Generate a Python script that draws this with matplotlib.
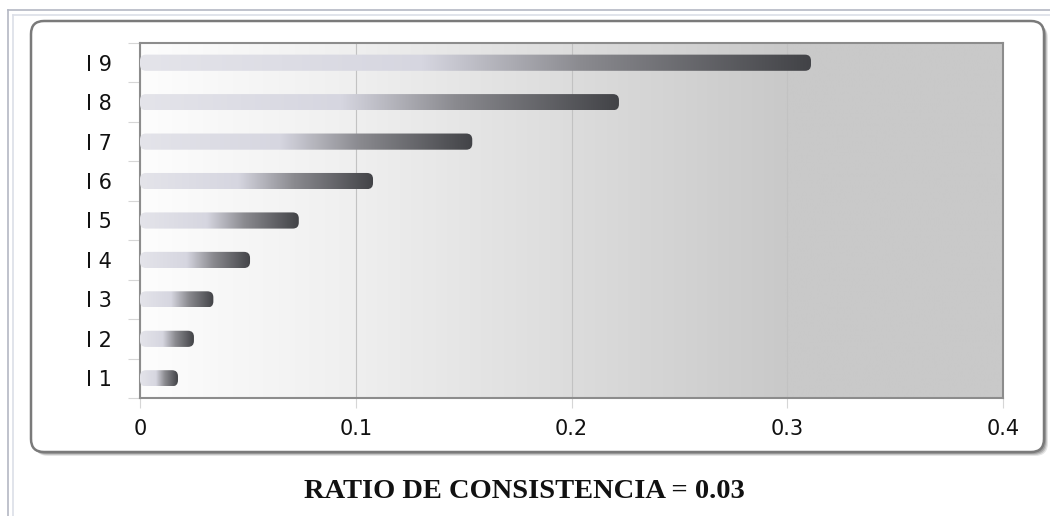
import numpy as np
import matplotlib
matplotlib.use("Agg")
import matplotlib.pyplot as plt
from matplotlib.patches import FancyBboxPatch
from matplotlib.colors import LinearSegmentedColormap
from matplotlib.lines import Line2D

# ---- data ----
categories = ["I 1", "I 2", "I 3", "I 4", "I 5", "I 6", "I 7", "I 8", "I 9"]
values = [0.0176, 0.025, 0.034, 0.051, 0.0736, 0.108, 0.154, 0.222, 0.311]
x_ticks = [0, 0.1, 0.2, 0.3, 0.4]
x_tick_labels = ["0", "0.1", "0.2", "0.3", "0.4"]
caption = "RATIO DE CONSISTENCIA = 0.03"

W, H = 1050, 516
fig = plt.figure(figsize=(W / 100, H / 100), dpi=100)
fig.patch.set_facecolor("white")


def fx(px):
    return px / W


def fy(py):
    return 1 - py / H


# outer page frame (double thin lines)
for off, col in [(8, "#b4b8c4"), (13, "#dcdfe8")]:
    fig.add_artist(Line2D([fx(off), 1], [fy(off + 2), fy(off + 2)],
                          transform=fig.transFigure, color=col, lw=1.2))
    fig.add_artist(Line2D([fx(off), fx(off)], [fy(off + 2), 0],
                          transform=fig.transFigure, color=col, lw=1.2))

# rounded chart panel with a soft shadow
asp_fig = W / H
px0, py0, px1, py1 = 31, 21, 1044, 452
for dx, a in [(4, 0.10), (3, 0.14), (2, 0.18)]:
    sh = FancyBboxPatch((fx(px0 + dx), fy(py1 + dx)), fx(px1 - px0), fy(py0) - fy(py1),
                        boxstyle=f"round,pad=0,rounding_size={fx(13)}",
                        mutation_aspect=asp_fig, transform=fig.transFigure,
                        facecolor="black", edgecolor="none", alpha=a, zorder=0)
    fig.add_artist(sh)
panel = FancyBboxPatch((fx(px0), fy(py1)), fx(px1 - px0), fy(py0) - fy(py1),
                       boxstyle=f"round,pad=0,rounding_size={fx(13)}",
                       mutation_aspect=asp_fig, transform=fig.transFigure,
                       facecolor="white", edgecolor="#7a7a7a", lw=1.8, zorder=0.5)
fig.add_artist(panel)

# plotting area
ax = fig.add_axes([fx(140), fy(398), fx(1003 - 140), fy(43) - fy(398)])
ax.set_zorder(2)
ax.patch.set_alpha(0)
xmax = 0.4
ax.set_xlim(0, xmax)
ax.set_ylim(-0.5, len(categories) - 0.5)

# background: white fading into grey, flat beyond 0.3
bg_x = np.linspace(0, xmax, 600)
bg_t = np.clip(bg_x / 0.3, 0, 1)[None, :]
bg_cmap = LinearSegmentedColormap.from_list(
    "bg", [(0.0, "#fdfdfd"), (0.33, "#efefef"), (0.67, "#dcdcdc"), (1.0, "#c9c9c9")])
ax.imshow(bg_t, extent=[0, xmax, -0.5, len(categories) - 0.5], cmap=bg_cmap,
          vmin=0, vmax=1, aspect="auto", origin="lower", interpolation="bilinear",
          zorder=0)

# bars: rounded capsules with a light-to-dark gradient along their length
bar_cmap = LinearSegmentedColormap.from_list(
    "bar", [(0.0, "#e4e4ea"), (0.42, "#d6d6e0"), (0.66, "#8a8a8f"), (1.0, "#424347")])
ypos = np.arange(len(categories))
bars = ax.barh(ypos, values, height=0.41, color="none", edgecolor="none")

fig.canvas.draw()
bb = ax.get_window_extent()
asp_ax = (len(categories) / bb.height) / (xmax / bb.width)
r = 6 * xmax / bb.width
grad = np.linspace(0, 1, 256)[None, :]
for rect in bars:
    x0, y0, w, h = rect.get_x(), rect.get_y(), rect.get_width(), rect.get_height()
    cap = FancyBboxPatch((x0, y0), w, h,
                         boxstyle=f"round,pad=0,rounding_size={r}",
                         mutation_aspect=asp_ax, transform=ax.transData,
                         facecolor="none", edgecolor="none")
    ax.add_patch(cap)
    im = ax.imshow(grad, extent=[x0, x0 + w, y0, y0 + h], cmap=bar_cmap,
                   aspect="auto", origin="lower", interpolation="bilinear", zorder=3)
    im.set_clip_path(cap)

ax.set_xlim(0, xmax)
ax.set_ylim(-0.5, len(categories) - 0.5)

# grid and axes styling
ax.set_axisbelow(True)
ax.grid(axis="x", color="#c2c2c2", lw=0.8, zorder=1)
ax.grid(axis="y", visible=False)
for s in ax.spines.values():
    s.set_color("#8c8c8c")
    s.set_linewidth(1.5)

ax.set_xticks(x_ticks)
ax.set_xticklabels(x_tick_labels)
ax.set_yticks(ypos)
ax.set_yticklabels(categories)
ax.set_yticks(np.arange(-0.5, len(categories)), minor=True)
ax.tick_params(axis="y", which="major", length=0, pad=20)
ax.tick_params(axis="y", which="minor", length=9, color="#d6d6d6", width=0.8)
ax.tick_params(axis="x", which="major", length=7, color="#d6d6d6", width=0.8, pad=8)
for lab in ax.get_xticklabels() + ax.get_yticklabels():
    lab.set_fontfamily("DejaVu Sans")
    lab.set_fontsize(15)
    lab.set_color("#111111")

fig.text(fx(524), fy(491), caption, ha="center", va="center",
         fontfamily="Liberation Serif", fontweight="bold", fontsize=20.5, color="#111111")

fig.savefig("out.png", dpi=100, facecolor="white")
